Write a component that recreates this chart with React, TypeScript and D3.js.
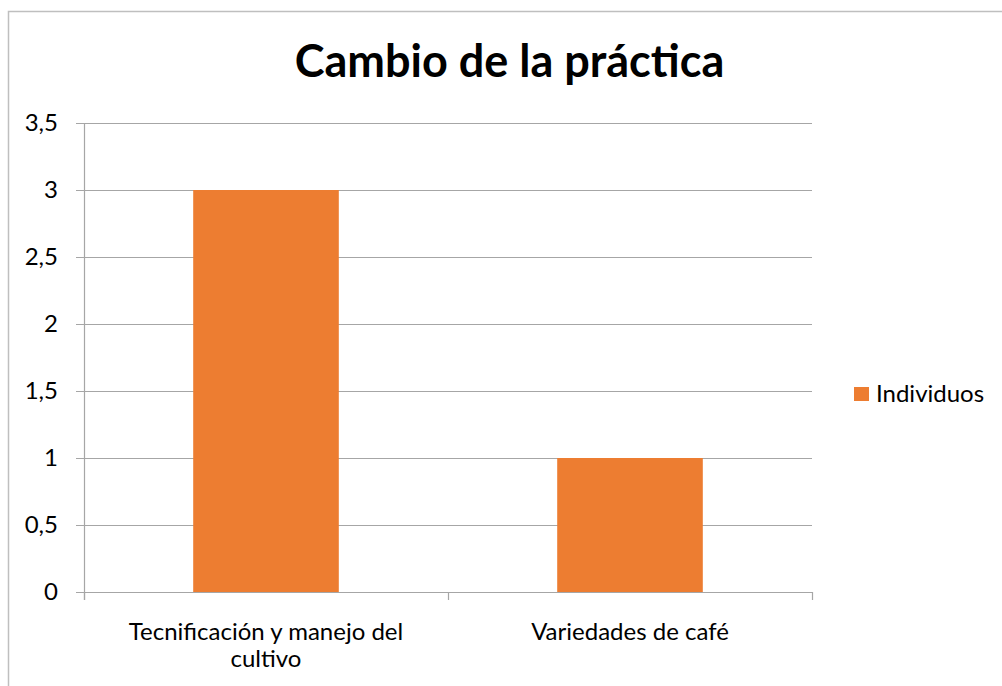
import React from "react";
import * as d3 from "d3";

const categories: string[][] = [["Tecnificación y manejo del", "cultivo"], ["Variedades de café"]];
const values: number[] = [3, 1];
const yTicks: number[] = [0, 0.5, 1, 1.5, 2, 2.5, 3, 3.5];
const seriesName = "Individuos";
const title = "Cambio de la práctica";

const W = 1002, H = 686;
const left = 84, right = 812, top = 123, bottom = 592;
const FONT = "Lato, 'Open Sans', sans-serif";
const ORANGE = "#ED7D31";
const GRID = "#A6A6A6";

export default function App() {
  const x = d3.scaleBand<number>().domain(d3.range(values.length)).range([left, right]).paddingInner(0.6).paddingOuter(0.3);
  const band = d3.scaleBand<number>().domain(d3.range(values.length)).range([left, right]);
  const y = d3.scaleLinear().domain([0, 3.5]).range([bottom, top]);
  const fmt = (v: number) => String(v).replace(".", ",");
  return (
    <svg width={W} height={H} style={{ position: "absolute", left: 0, top: 0, background: "#fff" }}>
      <rect x={8.5} y={11.5} width={W + 10} height={H + 10} fill="#fff" stroke="#BFBFBF" strokeWidth={1.5} />
      <text x={509.5} y={77} textAnchor="middle" fontFamily={FONT} fontWeight="bold" fontSize={45} fill="#000">{title}</text>
      {yTicks.map((t) => (
        <g key={t}>
          <line x1={left - 8} x2={right} y1={Math.round(y(t)) + 0.5} y2={Math.round(y(t)) + 0.5} stroke={GRID} strokeWidth={1.2} />
          <text x={58} y={y(t) + 8} textAnchor="end" fontFamily={FONT} fontSize={24} fill="#000">{fmt(t)}</text>
        </g>
      ))}
      <line x1={left + 0.5} x2={left + 0.5} y1={top} y2={bottom + 8} stroke={GRID} strokeWidth={1.2} />
      {values.map((v, i) => (
        <rect key={i} x={x(i)} y={y(v)} width={x.bandwidth()} height={y(0) - y(v)} fill={ORANGE} />
      ))}
      {d3.range(values.length + 1).map((i) => {
        const xx = i < values.length ? band(i)! : right;
        return <line key={i} x1={xx + 0.5} x2={xx + 0.5} y1={bottom} y2={bottom + 8} stroke={GRID} strokeWidth={1.2} />;
      })}
      {categories.map((lines, i) => (
        <text key={i} textAnchor="middle" fontFamily={FONT} fontSize={24} fill="#000">
          {lines.map((l, j) => (
            <tspan key={j} x={band(i)! + band.bandwidth() / 2} y={640 + j * 27}>{l}</tspan>
          ))}
        </text>
      ))}
      <rect x={854} y={387} width={15} height={14} fill={ORANGE} />
      <text x={876} y={402} fontFamily={FONT} fontSize={24} fill="#000">{seriesName}</text>
    </svg>
  );
}
